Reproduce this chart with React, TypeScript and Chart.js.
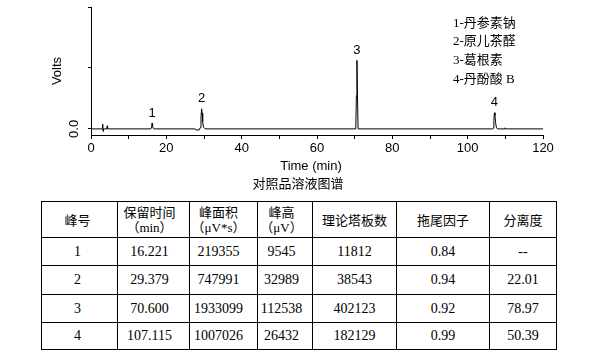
import React, { useEffect, useRef } from "react";
import { Chart, registerables } from "chart.js";

Chart.register(...registerables);

// ---- chromatogram trace (time in min, signal in volts) ----
const traceTime = [
  0, 3.0, 3.1, 3.2, 3.3, 4.2, 4.3, 4.4,
  15.9, 16.1, 16.22, 16.35, 16.55, 16.8,
  27.7, 27.9, 28.7, 29.0, 29.2, 29.38, 29.5, 29.65, 29.85, 30.3,
  70.3, 70.45, 70.6, 70.75, 70.9,
  106.6, 106.8, 106.95, 107.115, 107.25, 107.4, 107.6, 107.9,
  109.75, 109.9, 110.05, 120,
];
const traceVolts = [
  0, 0, 0.008, -0.004, 0, 0, 0.005, 0,
  0, 0.003, 0.009545, 0.004, 0.0005, 0,
  0, -0.0018, -0.0018, 0.002, 0.02, 0.032989, 0.026, 0.012, 0.003, 0,
  0, 0.055, 0.112538, 0.055, 0,
  0, 0.001, 0.014, 0.026432, 0.022, 0.011, 0.003, 0,
  0, 0.0018, 0, 0,
];

// ---- peak annotations ----
const peakNumbers = ["1", "2", "3", "4"];
const peakTimes = [16.22, 29.38, 70.6, 107.115];
const peakTopVolts = [0.009545, 0.032989, 0.112538, 0.026432];

// ---- axes ----
const xTickValues = [0, 10, 20, 30, 40, 50, 60, 70, 80, 90, 100, 110, 120];
const xLabelValues = [0, 20, 40, 60, 80, 100, 120];
const yTickValues = [0, 0.1, 0.2];
const yLabelValues = [0];
const xTitle = "Time (min)";
const yTitle = "Volts";
const caption = "对照品溶液图谱";

// ---- legend ----
const legendItems = ["1-丹参素钠", "2-原儿茶醛", "3-葛根素", "4-丹酚酸 B"];

// ---- table ----
const headerLine1 = ["峰号", "保留时间", "峰面积", "峰高", "理论塔板数", "拖尾因子", "分离度"];
const headerLine2 = ["", "（min）", "（μV*s）", "（μV）", "", "", ""];
const peakIds = ["1", "2", "3", "4"];
const retentionTimes = ["16.221", "29.379", "70.600", "107.115"];
const peakAreas = ["219355", "747991", "1933099", "1007026"];
const peakHeights = ["9545", "32989", "112538", "26432"];
const plateCounts = ["11812", "38543", "402123", "182129"];
const tailingFactors = ["0.84", "0.94", "0.92", "0.99"];
const resolutions = ["--", "22.01", "78.97", "50.39"];

const colWidths = [76, 72, 68, 55, 84, 93, 67];
const colShift = [4, 8, 10, 7, 0, 0, 0];
const rowHeights = [36, 28, 29, 28, 27];

const SANS = '"Liberation Sans", Arial, sans-serif';
const SERIF_CJK = '"Liberation Serif", "Noto Sans CJK SC", serif';
const CJK = '"Noto Sans CJK SC", "Liberation Serif", sans-serif';

const annotationPlugin = {
  id: "annotations",
  afterDatasetsDraw(chart: any) {
    const { ctx, scales, chartArea } = chart;
    ctx.save();
    ctx.fillStyle = "#000";
    ctx.font = `13px ${SANS}`;
    ctx.textAlign = "center";
    ctx.textBaseline = "middle";
    peakNumbers.forEach((n, i) => {
      const x = scales.x.getPixelForValue(peakTimes[i]);
      const y = scales.y.getPixelForValue(peakTopVolts[i]);
      ctx.fillText(n, x, y - 10);
    });
    // x axis title
    ctx.fillText(xTitle, (chartArea.left + chartArea.right) / 2 - 6, 166);
    ctx.restore();
  },
};

export default function App() {
  const ref = useRef<HTMLCanvasElement>(null);

  useEffect(() => {
    const data = traceTime.map((t, i) => ({ x: t, y: traceVolts[i] }));
    const chart = new Chart(ref.current as HTMLCanvasElement, {
      type: "line",
      data: {
        datasets: [
          {
            data,
            borderColor: "#000",
            borderWidth: 1,
            pointRadius: 0,
            tension: 0,
            fill: false,
          },
        ],
      },
      options: {
        responsive: false,
        animation: false,
        devicePixelRatio: 1,
        layout: { padding: { top: 7, right: 60, left: 0, bottom: 0 } },
        plugins: {
          legend: { display: false },
          tooltip: { enabled: false },
          title: { display: false },
        },
        scales: {
          x: {
            type: "linear",
            min: 0,
            max: 120,
            afterBuildTicks: (s: any) => {
              s.ticks = xTickValues.map((v) => ({ value: v }));
            },
            afterFit: (s: any) => {
              s.height = 65;
              s.paddingLeft = 0;
              s.paddingRight = 0;
              s.paddingTop = 0;
              s.paddingBottom = 0;
            },
            ticks: {
              autoSkip: false,
              maxRotation: 0,
              minRotation: 0,
              padding: 2,
              color: "#000",
              font: { family: SANS, size: 13 },
              callback: (v: any) => (xLabelValues.includes(Number(v)) ? String(v) : ""),
            },
            grid: {
              display: true,
              drawOnChartArea: false,
              drawTicks: true,
              tickLength: 4,
              color: "#000",
              lineWidth: 1,
            },
            border: { display: true, color: "#000", width: 1 },
            title: { display: false },
          },
          y: {
            type: "linear",
            min: -0.01,
            max: 0.2,
            afterBuildTicks: (s: any) => {
              s.ticks = yTickValues.map((v) => ({ value: v }));
            },
            afterFit: (s: any) => {
              s.width = 91;
              s.paddingLeft = 0;
              s.paddingRight = 0;
              s.paddingTop = 0;
              s.paddingBottom = 0;
            },
            ticks: {
              minRotation: 90,
              maxRotation: 90,
              crossAlign: "center",
              padding: 5,
              color: "#000",
              font: { family: SANS, size: 13 },
              callback: (v: any) => (yLabelValues.includes(Number(v)) ? Number(v).toFixed(1) : ""),
            },
            grid: {
              display: true,
              drawOnChartArea: false,
              drawTicks: true,
              tickLength: 3,
              color: "#000",
              lineWidth: 1,
            },
            border: { display: true, color: "#000", width: 1 },
            title: {
              display: true,
              text: yTitle,
              color: "#000",
              font: { family: SANS, size: 13 },
              padding: { top: 50, bottom: 0 },
            },
          },
        },
      } as any,
      plugins: [annotationPlugin],
    });
    return () => chart.destroy();
  }, []);

  const rows = peakIds.map((id, i) => [
    id,
    retentionTimes[i],
    peakAreas[i],
    peakHeights[i],
    plateCounts[i],
    tailingFactors[i],
    resolutions[i],
  ]);

  const cellBase: React.CSSProperties = {
    boxSizing: "border-box",
    borderRight: "1px solid #000",
    borderBottom: "1px solid #000",
    display: "flex",
    flexDirection: "column",
    alignItems: "center",
    justifyContent: "center",
    textAlign: "center",
    color: "#000",
    whiteSpace: "nowrap",
  };

  return (
    <div
      style={{
        position: "absolute",
        left: 0,
        top: 0,
        width: 603,
        height: 357,
        background: "#fff",
        overflow: "hidden",
      }}
    >
      <canvas
        ref={ref}
        width={603}
        height={200}
        style={{ position: "absolute", left: 0, top: 0, width: 603, height: 200 }}
      />
      <div
        style={{
          position: "absolute",
          left: 453,
          top: 13.5,
          fontFamily: SERIF_CJK,
          fontSize: 13,
          lineHeight: "18.7px",
          color: "#000",
          whiteSpace: "nowrap",
        }}
      >
        {legendItems.map((t) => (
          <div key={t}>{t}</div>
        ))}
      </div>
      <div
        style={{
          position: "absolute",
          left: 0,
          width: 596,
          top: 174,
          height: 18,
          lineHeight: "18px",
          textAlign: "center",
          fontFamily: CJK,
          fontSize: 13,
          color: "#000",
        }}
      >
        {caption}
      </div>
      <div
        style={{
          position: "absolute",
          left: 41,
          top: 201,
          borderLeft: "1px solid #000",
          borderTop: "1px solid #000",
          display: "grid",
          gridTemplateColumns: colWidths.map((w) => `${w}px`).join(" "),
          gridTemplateRows: rowHeights.map((h) => `${h}px`).join(" "),
        }}
      >
        {headerLine1.map((h, c) => (
          <div
            key={`h${c}`}
            style={{ ...cellBase, paddingRight: colShift[c], fontSize: 13, lineHeight: "16px" }}
          >
            <div style={{ fontFamily: CJK }}>{h}</div>
            {headerLine2[c] ? (
              <div style={{ fontFamily: SERIF_CJK }}>{headerLine2[c]}</div>
            ) : null}
          </div>
        ))}
        {rows.map((r, ri) =>
          r.map((v, c) => (
            <div
              key={`r${ri}c${c}`}
              style={{
                ...cellBase,
                paddingRight: colShift[c],
                fontFamily: SERIF_CJK,
                fontSize: 14,
                lineHeight: "16px",
              }}
            >
              {v}
            </div>
          ))
        )}
      </div>
    </div>
  );
}
